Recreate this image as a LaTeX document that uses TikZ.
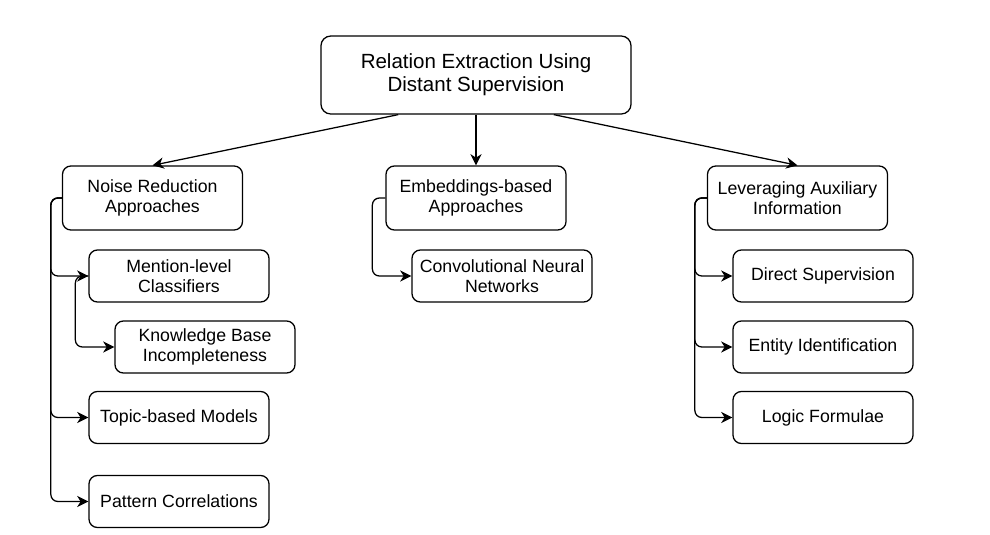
\documentclass[tikz,border=0pt]{standalone}
\usepackage{fontspec}
\setmainfont{Liberation Sans}
\usetikzlibrary{arrows.meta,calc}
\tikzset{
  rootbox/.style={rectangle,rounded corners=7pt,draw=black,line width=0.9pt,
    minimum width=7.75cm,minimum height=1.95cm,align=center,inner sep=3pt,
    font=\fontsize{14.6}{16.6}\selectfont},
  catbox/.style={rectangle,rounded corners=6pt,draw=black,line width=0.9pt,
    minimum width=4.5cm,minimum height=1.6cm,align=center,inner sep=3pt,
    font=\fontsize{12.6}{14.2}\selectfont},
  leafbox/.style={rectangle,rounded corners=6pt,draw=black,line width=0.9pt,
    minimum width=4.5cm,minimum height=1.3cm,align=center,inner sep=3pt,
    font=\fontsize{12.6}{14.2}\selectfont},
  arr/.style={-{Stealth[length=8pt,width=8pt,inset=2.5pt]},line width=0.9pt},
  elbow/.style={arr,rounded corners=5pt}
}
\begin{document}
\begin{tikzpicture}[x=0.025cm,y=-0.025cm]
  \useasboundingbox (0,0) rectangle (990,534);
  % top of the tree
  \node[rootbox] (root) at (476,75) {Relation Extraction Using\\Distant Supervision};
  \node[catbox] (noise) at (152.5,198) {Noise Reduction\\Approaches};
  \node[catbox] (embed) at (476,198) {Embeddings-based\\Approaches};
  \node[catbox] (aux) at (797.5,198) {Leveraging Auxiliary\\Information};
  \draw[arr] ($(root.south west)!0.25!(root.south east)$) -- (noise.north);
  \draw[arr] (root.south) -- (embed.north);
  \draw[arr] ($(root.south west)!0.75!(root.south east)$) -- (aux.north);
  % noise reduction
  \node[leafbox] (mention) at (179,276) {Mention-level\\Classifiers};
  \node[leafbox] (kbinc) at (205,347) {Knowledge Base\\Incompleteness};
  \node[leafbox] (topic) at (179,417.5) {Topic-based Models};
  \node[leafbox] (pattern) at (179,501.5) {Pattern Correlations};
  \foreach \leaf in {mention,topic,pattern}
    \draw[elbow] (noise.west) -- ++(-11,0) |- (\leaf.west);
  \draw[elbow] (mention.west) -- ++(-13,0) |- (kbinc.west);
  % embeddings
  \node[leafbox] (cnn) at (502,276) {Convolutional Neural\\Networks};
  \draw[elbow] (embed.west) -- ++(-13,0) |- (cnn.west);
  % auxiliary information
  \node[leafbox] (direct) at (823,276) {Direct Supervision};
  \node[leafbox] (entity) at (823,347) {Entity Identification};
  \node[leafbox] (logic) at (823,417.5) {Logic Formulae};
  \foreach \leaf in {direct,entity,logic}
    \draw[elbow] (aux.west) -- ++(-12,0) |- (\leaf.west);
\end{tikzpicture}
\end{document}
